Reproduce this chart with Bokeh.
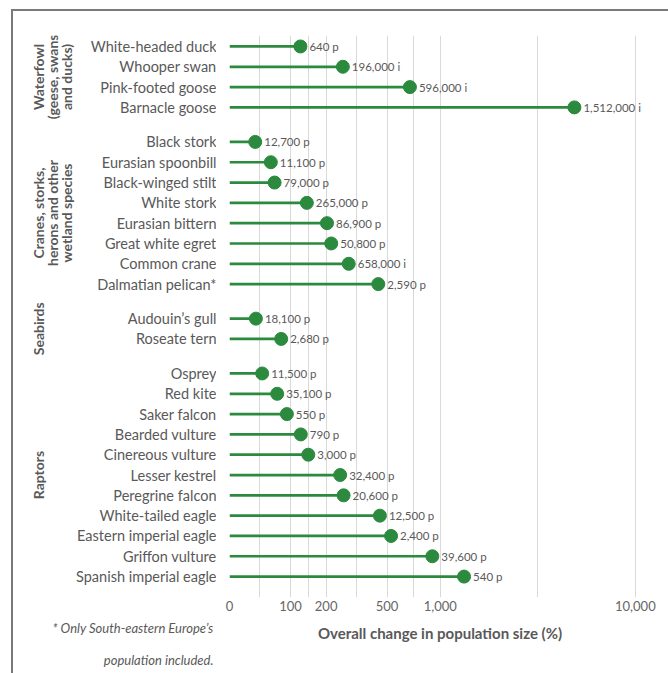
import math
from bokeh.plotting import figure
from bokeh.layouts import row
from bokeh.models import ColumnDataSource, FixedTicker, Range1d, LabelSet, Title
from bokeh.core.properties import value
from bokeh.embed import file_html
from bokeh.resources import INLINE

# ---------------- data ----------------
group_labels = [
    "Waterfowl\n(geese, swans\nand ducks)",
    "Cranes, storks,\nherons and other\nwetland species",
    "Seabirds",
    "Raptors",
]

waterfowl_species = ["White-headed duck", "Whooper swan", "Pink-footed goose", "Barnacle goose"]
waterfowl_change = [124, 263, 678, 4950]
waterfowl_pop = ["640 p", "196,000 i", "596,000 i", "1,512,000 i"]

wetland_species = ["Black stork", "Eurasian spoonbill", "Black-winged stilt", "White stork",
                   "Eurasian bittern", "Great white egret", "Common crane", "Dalmatian pelican*"]
wetland_change = [34, 60, 67, 141, 203, 218, 288, 443]
wetland_pop = ["12,700 p", "11,100 p", "79,000 p", "265,000 p", "86,900 p", "50,800 p",
               "658,000 i", "2,590 p"]

seabird_species = ["Audouin\u2019s gull", "Roseate tern"]
seabird_change = [35, 80]
seabird_pop = ["18,100 p", "2,680 p"]

raptor_species = ["Osprey", "Red kite", "Saker falcon", "Bearded vulture", "Cinereous vulture",
                  "Lesser kestrel", "Peregrine falcon", "White-tailed eagle",
                  "Eastern imperial eagle", "Griffon vulture", "Spanish imperial eagle"]
raptor_change = [45, 72, 92, 125, 145, 252, 266, 453, 528, 904, 1340]
raptor_pop = ["11,500 p", "35,100 p", "550 p", "790 p", "3,000 p", "32,400 p", "20,600 p",
              "12,500 p", "2,400 p", "39,600 p", "540 p"]

tick_values = [0, 100, 200, 500, 1000, 10000]
tick_labels = ["0", "100", "200", "500", "1,000", "10,000"]

footnote = ["* Only South-eastern Europe\u2019s", "population included."]
x_title = "Overall change in population size (%)"

# ---------------- build ----------------
GREEN = "#2b8a3e"
TEXT = "#595959"
FONT = "Lato"
GAP = 0.7

groups = [
    (waterfowl_species, waterfowl_change, waterfowl_pop),
    (wetland_species, wetland_change, wetland_pop),
    (seabird_species, seabird_change, seabird_pop),
    (raptor_species, raptor_change, raptor_pop),
]

names, ratios, pops, ys, group_centers = [], [], [], [], []
k = 0
for g, (sp, ch, pp) in enumerate(groups):
    gy = []
    for n, c, t in zip(sp, ch, pp):
        y = round(k + GAP * g, 2)
        names.append(n)
        ratios.append(1 + c / 100.0)
        pops.append(t)
        ys.append(y)
        gy.append(y)
        k += 1
    group_centers.append(sum(gy) / len(gy))

src = ColumnDataSource(dict(y=ys, r=ratios, name=names, pop=pops))

tick_ratios = [1 + v / 100.0 for v in tick_values]
grid_ratios = []
for a, b in zip(tick_ratios[:-1], tick_ratios[1:]):
    grid_ratios += [a, math.sqrt(a * b)]
grid_ratios.append(tick_ratios[-1])

# layout geometry (pixels)
H = 662
LEFT_W, MAIN_W = 203, 452
ML, MR, MT, MB = 13, 18, 24, 76
yr = Range1d(27.13, -0.54)

# ---------------- main chart ----------------
p = figure(width=MAIN_W, height=H, x_axis_type="log",
           x_range=Range1d(1, 120), y_range=yr,
           output_backend="svg", toolbar_location=None,
           min_border_left=ML, min_border_right=MR, min_border_top=MT, min_border_bottom=MB)
p.outline_line_color = None
p.background_fill_color = "white"
p.border_fill_color = "white"

p.segment(x0=1, y0="y", x1="r", y1="y", source=src, line_color=GREEN, line_width=2.7)
p.scatter(x="r", y="y", size=13, source=src, fill_color=GREEN, line_color=GREEN)

p.add_layout(LabelSet(x="r", y="y", text="pop", source=src, x_offset=9,
                      text_baseline="middle", text_font=value(FONT), text_font_size="11.5px",
                      text_color=TEXT))

p.xaxis.ticker = FixedTicker(ticks=tick_ratios, minor_ticks=[])
p.xaxis.major_label_overrides = {r: l for r, l in zip(tick_ratios, tick_labels)}
p.xaxis.axis_line_color = None
p.xaxis.major_tick_line_color = None
p.xaxis.minor_tick_line_color = None
p.xaxis.major_tick_out = 0
p.xaxis.major_label_standoff = 3
p.xaxis.major_label_text_font = FONT
p.xaxis.major_label_text_font_size = "13px"
p.xaxis.major_label_text_color = "#666666"
p.xaxis.axis_label = x_title
p.xaxis.axis_label_text_font = FONT
p.xaxis.axis_label_text_font_style = "bold"
p.xaxis.axis_label_text_font_size = "15px"
p.xaxis.axis_label_text_color = TEXT
p.xaxis.axis_label_standoff = 10

p.xgrid.ticker = FixedTicker(ticks=grid_ratios, minor_ticks=[])
p.xgrid.grid_line_color = "#d9d9d9"
p.xgrid.grid_line_width = 1
p.ygrid.grid_line_color = None
p.yaxis.visible = False

# ---------------- left panel: species names, group names, footnote ----------------
left = figure(width=LEFT_W, height=H,
              x_range=Range1d(0, LEFT_W), y_range=yr,
              output_backend="svg", toolbar_location=None,
              min_border_left=0, min_border_right=0, min_border_top=MT, min_border_bottom=MB)
left.axis.visible = False
left.grid.visible = False
left.outline_line_color = None
left.background_fill_color = "white"
left.border_fill_color = "white"

left.text(x=LEFT_W, y="y", text="name", source=src,
          text_align="right", text_baseline="middle",
          text_font=value(FONT), text_font_size="14.5px", text_color=TEXT)

gsrc = ColumnDataSource(dict(y=group_centers, text=group_labels))
left.text(x=16, y="y", text="text", source=gsrc, angle=math.pi / 2,
          text_align="center", text_baseline="top", text_line_height=0.85,
          text_font=value(FONT), text_font_style="bold", text_font_size="14px",
          text_color=TEXT)

for i, line in enumerate(footnote):
    left.add_layout(Title(text=line, align="right", offset=3,
                          standoff=(40 if i == 0 else -12),
                          text_font=FONT, text_font_style="italic", text_font_size="13px",
                          text_color=TEXT), "below")

layout = row(left, p)
layout.margin = (9, 0, 0, 11)
layout.styles = {"border-left": "2px solid #7a7a7a", "border-top": "2px solid #7a7a7a"}

open("out.html", "w").write(file_html(layout, INLINE))
